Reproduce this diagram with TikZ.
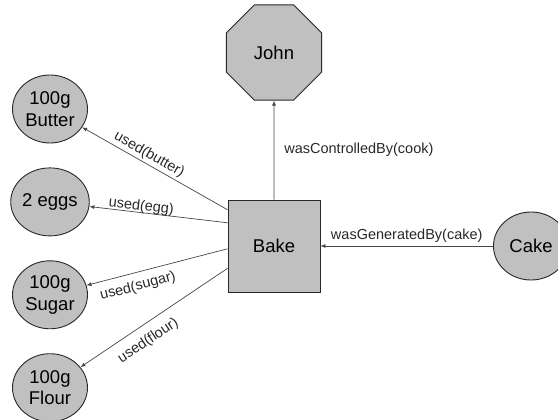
\documentclass[tikz,border=0pt]{standalone}
\usepackage{fontspec}
\setmainfont{Liberation Sans}
\usetikzlibrary{arrows.meta,positioning,calc,shapes.geometric}
\definecolor{shade}{RGB}{192,192,192}
\definecolor{ink}{RGB}{40,40,40}
\definecolor{wire}{RGB}{70,70,70}
\tikzset{
  entity/.style={ellipse,draw=ink,fill=shade,line width=0.9pt,minimum width=75pt,minimum height=68pt,inner sep=0pt,align=center,font=\fontsize{18.5}{21.5}\selectfont},
  process/.style={rectangle,draw=ink,fill=shade,line width=0.9pt,minimum size=92pt,font=\fontsize{18.5}{21.5}\selectfont},
  agent/.style={regular polygon,regular polygon sides=8,draw=ink,fill=shade,line width=0.9pt,minimum size=103pt,inner sep=0pt,font=\fontsize{18.5}{21.5}\selectfont},
  arr/.style={-{Latex[length=5pt,width=4pt]},draw=wire,line width=0.7pt},
  lbl/.style={font=\fontsize{14.5}{16}\selectfont,text=ink,inner sep=2pt},
}
\begin{document}
\begin{tikzpicture}[x=1pt,y=-1pt]
  \useasboundingbox (0,0) rectangle (558,420);
  \clip (0,0) rectangle (558,420);
  \node[process] (bake) at (274,246) {Bake};
  \node[agent,above=99pt of bake] (john) {John};
  \node[entity] (cake) at (531,246) {Cake};
  % ingredients on the left
  \node[entity] (butter) at (50,109) {100g\\Butter};
  \node[entity,below=24pt of butter] (eggs) {2 eggs};
  \node[entity,below=24pt of eggs] (sugar) {100g\\Sugar};
  \node[entity,below=24pt of sugar] (flour) {100g\\Flour};
  % start points on the left side of the process
  \coordinate (sb) at ($(bake.north west)!0.11!(bake.south west)$);
  \coordinate (se) at ($(bake.north west)!0.25!(bake.south west)$);
  \coordinate (ss) at ($(bake.north west)!0.53!(bake.south west)$);
  \coordinate (sf) at ($(bake.north west)!0.74!(bake.south west)$);
  \draw[arr] (sb) -- node[lbl,above,sloped,pos=0.57]{used(butter)} (butter);
  \draw[arr] (se) -- node[lbl,above=-3pt,sloped,pos=0.63]{used(egg)} (eggs);
  \draw[arr] (ss) -- node[lbl,below=5pt,sloped,pos=0.66]{used(sugar)} (sugar);
  \draw[arr] (sf) -- node[lbl,below=7pt,sloped,pos=0.6]{used(flour)} (flour);
  % agent and product
  \draw[arr] (bake) -- node[lbl,right=8pt]{wasControlledBy(cook)} (john);
  \draw[arr] (cake) -- node[lbl,above=1pt]{wasGeneratedBy(cake)} (bake);
\end{tikzpicture}
\end{document}
